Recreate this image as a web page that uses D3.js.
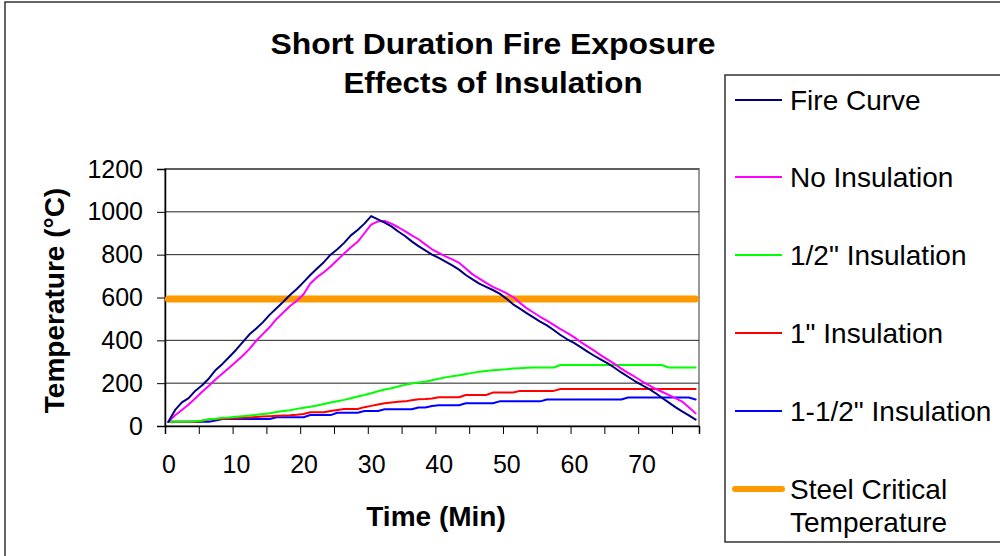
<!DOCTYPE html>
<html lang="en">
<head>
    <meta charset="UTF-8">
    <title>Short Duration Fire Exposure</title>
    <script src="https://cdn.jsdelivr.net/npm/d3@7"></script>
    <style>
        body { margin: 0; background: #fff; font-family: "Liberation Sans", Arial, sans-serif; }
        svg { display: block; }
    </style>
</head>
<body>
<div id="chart"></div>
<script>
// minutes 0..78
const minutes = d3.range(0, 79);

const fireCurve = [20, 75, 110, 130, 165, 190, 222, 262, 290, 322, 355, 392, 428, 455, 485, 520, 550, 580, 612, 640,
    672, 705, 735, 765, 800, 825, 855, 890, 915, 945, 980, 965, 950, 932, 908, 887, 862, 840, 820, 800,
    785, 768, 750, 730, 705, 685, 665, 650, 635, 618, 595, 568, 548, 527, 507, 487, 470, 448, 425, 405,
    388, 368, 347, 328, 310, 292, 272, 250, 230, 210, 192, 175, 155, 132, 110, 88, 68, 50, 30];

const noInsulation = [20, 50, 75, 100, 130, 160, 188, 218, 245, 272, 300, 328, 360, 398, 430, 462, 500, 530, 560, 585,
    615, 665, 695, 718, 745, 775, 805, 835, 860, 900, 940, 955, 957, 945, 928, 910, 890, 872, 848, 825,
    808, 792, 778, 762, 735, 708, 688, 668, 650, 636, 620, 602, 575, 550, 530, 510, 492, 472, 452, 435,
    415, 392, 372, 352, 330, 310, 290, 268, 248, 230, 210, 192, 175, 160, 145, 130, 114, 88, 59];

const halfInch = [20, 20, 20, 20, 22, 26, 31, 34, 38, 40, 43, 46, 49, 52, 56, 60, 65, 70, 74, 80,
    85, 90, 96, 103, 110, 116, 122, 130, 138, 145, 153, 162, 170, 176, 184, 192, 198, 203, 207, 214,
    221, 227, 232, 237, 243, 248, 253, 257, 260, 263, 265, 268, 270, 272, 273, 273, 273, 273, 285, 285,
    285, 285, 285, 285, 285, 285, 285, 285, 285, 285, 285, 285, 285, 285, 273, 273, 273, 273, 273];

const oneInch = [20, 20, 20, 20, 20, 25, 30, 32, 34, 35, 36, 38, 40, 42, 44, 46, 48, 49, 50, 52,
    56, 64, 64, 64, 70, 75, 79, 79, 79, 88, 94, 100, 106, 110, 113, 115, 120, 125, 126, 128,
    134, 134, 134, 134, 145, 145, 145, 145, 156, 156, 156, 156, 164, 164, 164, 164, 164, 164, 173, 173,
    173, 173, 173, 173, 173, 173, 173, 173, 173, 173, 173, 173, 173, 173, 173, 173, 173, 173, 173];

const oneHalfInch = [20, 20, 20, 20, 20, 20, 20, 26, 33, 33, 33, 33, 33, 33, 33, 33, 41, 41, 41, 41,
    41, 51, 51, 51, 51, 62, 62, 62, 62, 70, 70, 70, 78, 78, 78, 78, 78, 86, 86, 93,
    97, 97, 97, 97, 106, 106, 106, 106, 106, 115, 115, 115, 115, 115, 115, 115, 124, 124, 124, 124,
    124, 124, 124, 124, 124, 124, 124, 124, 133, 133, 133, 133, 133, 133, 133, 133, 133, 133, 124];

const steelCritical = minutes.map(() => 593);

const seriesNames = ["Fire Curve", "No Insulation", "1/2\" Insulation", "1\" Insulation", "1-1/2\" Insulation", "Steel Critical Temperature"];
const seriesValues = [fireCurve, noInsulation, halfInch, oneInch, oneHalfInch, steelCritical];
const seriesColors = ["#000080", "#ff00ff", "#00ff00", "#ff0000", "#0000ff", "#ff9900"];
const seriesWidths = [2, 2, 2, 2, 2, 7];

const yTicks = [0, 200, 400, 600, 800, 1000, 1200];
const xLabels = [0, 10, 20, 30, 40, 50, 60, 70];

const width = 1000, height = 556;
const plot = { left: 165, right: 699, top: 169, bottom: 426 };

const svg = d3.select("#chart").append("svg")
    .attr("width", width)
    .attr("height", height);

// outer chart border
svg.append("rect")
    .attr("x", 5).attr("y", 2)
    .attr("width", 1000).attr("height", 600)
    .attr("fill", "#fff")
    .attr("stroke", "#333").attr("stroke-width", 1.5);

const x = d3.scaleLinear().domain([-0.5, 78.5]).range([plot.left, plot.right]);
const y = d3.scaleLinear().domain([0, 1200]).range([plot.bottom, plot.top]);

// plot area frame
svg.append("rect")
    .attr("x", plot.left).attr("y", plot.top)
    .attr("width", plot.right - plot.left).attr("height", plot.bottom - plot.top)
    .attr("fill", "#fff")
    .attr("stroke", "#999").attr("stroke-width", 2);

// gridlines
svg.append("g")
    .selectAll("line")
    .data(yTicks.filter(d => d > 0))
    .join("line")
    .attr("x1", plot.left).attr("x2", plot.right)
    .attr("y1", d => y(d)).attr("y2", d => y(d))
    .attr("stroke", "#222").attr("stroke-width", 1);

// y axis
const yAxis = svg.append("g")
    .attr("transform", `translate(${plot.left},0)`)
    .call(d3.axisLeft(y).tickValues(yTicks).tickSize(8).tickPadding(14).tickFormat(d3.format("d")));
yAxis.select(".domain").attr("stroke", "#000").attr("stroke-width", 1.5);
yAxis.selectAll(".tick line").attr("stroke", "#000");
yAxis.selectAll("text")
    .attr("font-family", "Liberation Sans, Arial, sans-serif")
    .attr("font-size", 25)
    .attr("fill", "#000");

// x axis: tick marks every 5 categories
const xTickPos = d3.range(0, 16).map(k => -0.5 + 5 * k);
const xAxis = svg.append("g")
    .attr("transform", `translate(0,${plot.bottom})`)
    .call(d3.axisBottom(x).tickValues(xTickPos).tickSize(8).tickFormat(""));
xAxis.select(".domain").attr("stroke", "#000").attr("stroke-width", 1.5);
xAxis.selectAll(".tick line").attr("stroke", "#000");

// x labels
const xLab = svg.append("g")
    .attr("transform", `translate(0,${plot.bottom})`)
    .call(d3.axisBottom(x).tickValues(xLabels).tickSize(0).tickPadding(29));
xLab.select(".domain").remove();
xLab.selectAll("text")
    .attr("font-family", "Liberation Sans, Arial, sans-serif")
    .attr("font-size", 25)
    .attr("fill", "#000");

// series lines
const line = d3.line()
    .x((d, i) => x(minutes[i]))
    .y(d => y(d));

const order = [5, 4, 3, 2, 1, 0];
svg.append("g")
    .selectAll("path")
    .data(order)
    .join("path")
    .attr("d", i => line(seriesValues[i]))
    .attr("fill", "none")
    .attr("stroke", i => seriesColors[i])
    .attr("stroke-width", i => seriesWidths[i])
    .attr("stroke-linecap", "round")
    .attr("stroke-linejoin", "round");

// titles
svg.append("text")
    .attr("x", 493).attr("y", 54)
    .attr("text-anchor", "middle")
    .attr("font-size", 30).attr("font-weight", "bold")
    .attr("textLength", 445).attr("lengthAdjust", "spacingAndGlyphs")
    .text("Short Duration Fire Exposure");
svg.append("text")
    .attr("x", 493).attr("y", 93)
    .attr("text-anchor", "middle")
    .attr("font-size", 30).attr("font-weight", "bold")
    .attr("textLength", 299).attr("lengthAdjust", "spacingAndGlyphs")
    .text("Effects of Insulation");

svg.append("text")
    .attr("transform", `translate(64,${(plot.top + plot.bottom) / 2 + 3}) rotate(-90)`)
    .attr("text-anchor", "middle")
    .attr("font-size", 28).attr("font-weight", "bold")
    .text("Temperature (°C)");

svg.append("text")
    .attr("x", 436).attr("y", 526)
    .attr("text-anchor", "middle")
    .attr("font-size", 28).attr("font-weight", "bold")
    .text("Time (Min)");

// legend
const legend = svg.append("g");
legend.append("rect")
    .attr("x", 725).attr("y", 75)
    .attr("width", 300).attr("height", 467)
    .attr("fill", "#fff")
    .attr("stroke", "#333").attr("stroke-width", 1.5);

const rowY = [100, 177, 255, 333, 411, 489];
const item = legend.selectAll("g.item")
    .data(seriesNames)
    .join("g")
    .attr("class", "item")
    .attr("transform", (d, i) => `translate(0,${rowY[i]})`);

item.append("line")
    .attr("x1", 735).attr("x2", 782)
    .attr("stroke", (d, i) => seriesColors[i])
    .attr("stroke-width", (d, i) => i === 5 ? 6 : 2)
    .attr("stroke-linecap", (d, i) => i === 5 ? "round" : "butt");

item.append("text")
    .attr("x", 790)
    .attr("font-size", 28)
    .each(function (d, i) {
        const t = d3.select(this);
        if (i === 5) {
            t.append("tspan").attr("x", 790).attr("dy", 10).text("Steel Critical");
            t.append("tspan").attr("x", 790).attr("dy", 33).text("Temperature");
        } else {
            t.attr("dy", 10).text(d);
        }
    });
</script>
</body>
</html>
